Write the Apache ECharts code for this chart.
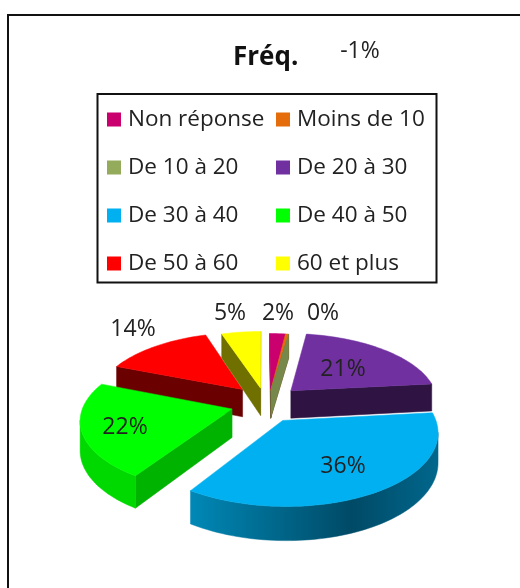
<!DOCTYPE html>
<html>
<head>
<meta charset="utf-8">
<style>
html, body { margin: 0; padding: 0; background: #fff; }
#main { width: 520px; height: 588px; }
</style>
<script src="https://cdn.jsdelivr.net/npm/echarts@6/dist/echarts.min.js"></script>
</head>
<body>
<div id="main"></div>
<script>
const categories = ['Non réponse', 'Moins de 10', 'De 10 à 20', 'De 20 à 30', 'De 30 à 40', 'De 40 à 50', 'De 50 à 60', '60 et plus'];
const values = [2, 0.4, -1, 21, 36, 22, 14, 5];
const colors = ['#C9006E', '#E46C0A', '#94AB5C', '#7030A0', '#00B0F0', '#00FF00', '#FF0000', '#FFFF00'];
// decalage de chaque part (unite = rayon)
const explodeX = [0.06, 0.06, 0.06, 0.2, 0.135, -0.2, -0.135, -0.01];
const explodeY = [-0.14, -0.14, -0.14, -0.14, 0.29, 0.13, -0.16, -0.18];
// assombrissement des faces radiales
const wallShade = [0.45, 0.45, 0.8, 0.42, 0.5, 0.7, 0.42, 0.44];
const drawOrder = [6, 7, 0, 1, 2, 3, 5, 4];
// position des etiquettes
const labelPos = [[278, 313], [323, 313], [360, 51], [343, 369], [343, 466], [125, 427], [133, 329], [230, 313]];

const FONT = 'Open Sans';
const CX = 262;
const CY = 400;
const RADIUS = 147;
const FLAT = 0.46;
const PERSP = 0.14;
const DEPTH = 28;

// une valeur negative n'ouvre pas d'angle, seule sa face reste visible
const total = values.reduce((s, v) => s + Math.max(v, 0), 0);

// disque 3D vers ecran : Y vers le spectateur
const project = (x, y, down) => {
    const s = 1 / (1 - PERSP * y);
    return [CX + RADIUS * x * s, CY + RADIUS * FLAT * y * s + (down ? DEPTH * s : 0)];
};

const sliceAngles = () => {
    let acc = 0;
    return values.map((v) => {
        const a0 = acc / total * Math.PI * 2;
        acc += Math.max(v, 0);
        return [a0, acc / total * Math.PI * 2];
    });
};
const angles = sliceAngles();

const shade = (hex, f) => {
    const c = echarts.color.parse(hex);
    return `rgb(${Math.round(c[0] * f)},${Math.round(c[1] * f)},${Math.round(c[2] * f)})`;
};

const renderSlice = (idx) => () => {
    const [a0, a1] = angles[idx];
    const ox = explodeX[idx];
    const oy = explodeY[idx];
    const arcTop = [];
    const arcBottom = [];
    const steps = Math.max(2, Math.ceil((a1 - a0) / 0.03));
    for (let i = 0; i <= steps; i += 1) {
        const a = a0 + (a1 - a0) * i / steps;
        const x = ox + Math.sin(a);
        const y = oy - Math.cos(a);
        arcTop.push(project(x, y, false));
        arcBottom.push(project(x, y, true));
    }
    const apexTop = project(ox, oy, false);
    const apexBottom = project(ox, oy, true);
    const color = colors[idx];
    const wallColor = shade(color, wallShade[idx]);
    const children = [];
    const poly = (points, fill) => children.push({
        type: 'polygon',
        shape: { points },
        style: { fill, stroke: fill, lineWidth: 0.5 },
    });
    // sens horaire a l'ecran : une face est visible si son arete va vers la gauche
    if (arcTop[0][0] < apexTop[0]) poly([apexTop, arcTop[0], arcBottom[0], apexBottom], wallColor);
    if (arcTop[steps][0] > apexTop[0]) poly([apexTop, arcTop[steps], arcBottom[steps], apexBottom], wallColor);
    const topFront = [];
    const bottomFront = [];
    for (let i = 0; i <= steps; i += 1) {
        const goesLeft = (i < steps && arcTop[i + 1][0] < arcTop[i][0]) || (i > 0 && arcTop[i][0] < arcTop[i - 1][0]);
        if (goesLeft) {
            topFront.push(arcTop[i]);
            bottomFront.push(arcBottom[i]);
        }
    }
    if (topFront.length > 1) {
        const xs = topFront.map(p => p[0]);
        const isBlue = categories[idx] === 'De 30 à 40';
        // face exterieure, degrade gauche-droite
        const outerFill = isBlue
            ? new echarts.graphic.LinearGradient(Math.min(...xs), 0, Math.max(...xs), 0, [
                { offset: 0, color: '#0088B6' },
                { offset: 0.65, color: '#004A66' },
                { offset: 1, color: '#00678C' },
            ], true)
            : shade(color, 0.85);
        poly(topFront.concat(bottomFront.slice().reverse()), outerFill);
    }
    // dessus
    if (a1 > a0) poly([apexTop].concat(arcTop), color);
    children.push({
        type: 'text',
        x: labelPos[idx][0],
        y: labelPos[idx][1],
        z2: 10,
        style: {
            text: `${Math.round(values[idx])}%`,
            font: `23px ${FONT}`,
            fill: '#222',
            align: 'center',
            verticalAlign: 'middle',
        },
    });
    return { type: 'group', children };
};

const chart = echarts.init(document.getElementById('main'), null, { renderer: 'canvas' });
const legendBase = {
    orient: 'vertical',
    top: 103,
    itemWidth: 14,
    itemHeight: 14,
    itemGap: 25,
    icon: 'rect',
    selectedMode: false,
    textStyle: { fontFamily: FONT, fontSize: 22.5, color: '#222', padding: [0, 0, 0, 2] },
};
chart.setOption({
    animation: false,
    backgroundColor: '#fff',
    title: {
        text: 'Fréq.',
        left: 228,
        top: 40,
        textStyle: { fontFamily: FONT, fontSize: 26, fontWeight: 'bold', color: '#111' },
    },
    legend: [
        { ...legendBase, left: 102, data: categories.filter((c, i) => i % 2 === 0) },
        { ...legendBase, left: 271, data: categories.filter((c, i) => i % 2 === 1) },
    ],
    graphic: [
        {
            type: 'polyline',
            silent: true,
            shape: { points: [[8, 588], [8, 15], [520, 15]] },
            style: { fill: 'none', stroke: '#111', lineWidth: 2 },
        },
        {
            type: 'rect',
            silent: true,
            shape: { x: 97.5, y: 94, width: 339, height: 188.5 },
            style: { fill: 'none', stroke: '#111', lineWidth: 2 },
        },
    ],
    series: categories.map((name, idx) => ({
        type: 'custom',
        name,
        coordinateSystem: 'none',
        z: 2 + drawOrder.indexOf(idx),
        itemStyle: { color: colors[idx] },
        data: [values[idx]],
        renderItem: renderSlice(idx),
    })),
});
</script>
</body>
</html>
